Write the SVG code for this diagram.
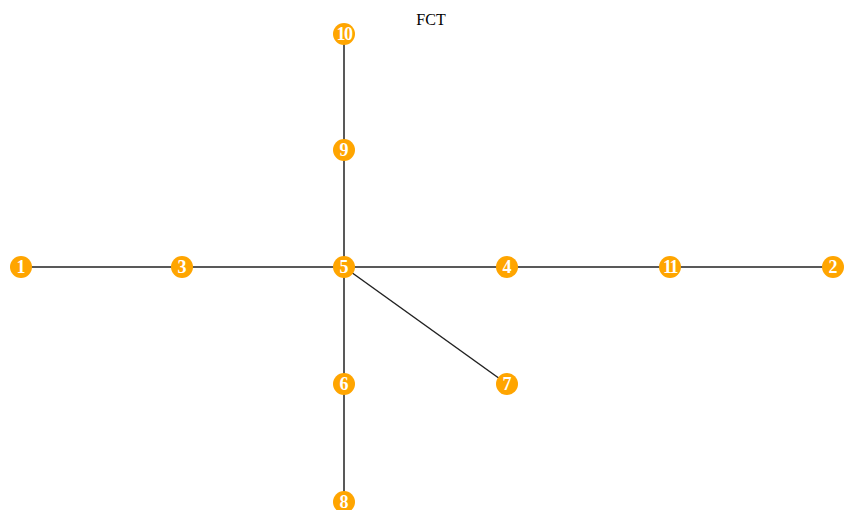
<svg xmlns="http://www.w3.org/2000/svg" width="846" height="510" viewBox="0 0 846 510">
  <style>
    .edge { stroke: #222; stroke-width: 1.5; fill: none; }
    .node circle { fill: #FFA500; }
    .node text { fill: #fff; font-family: "Liberation Serif", serif; font-weight: bold; font-size: 18px; text-anchor: middle; dominant-baseline: central; }
    .title { font-family: "Liberation Serif", serif; font-size: 16px; fill: #000; text-anchor: middle; }
  </style>
  <rect width="846" height="510" fill="#fff"/>
  <text class="title" x="431" y="25">FCT</text>
  <g id="edges">
    <line class="edge" x1="21" y1="267" x2="833" y2="267"/>
    <line class="edge" x1="344" y1="34" x2="344" y2="502"/>
    <line class="edge" x1="344" y1="267" x2="507" y2="384"/>
  </g>
  <g id="node-1" class="node"><circle cx="21" cy="267" r="11"/><text x="21" y="267">1</text></g>
  <g id="node-3" class="node"><circle cx="182" cy="267" r="11"/><text x="182" y="267">3</text></g>
  <g id="node-5" class="node"><circle cx="344" cy="267" r="11"/><text x="344" y="267">5</text></g>
  <g id="node-4" class="node"><circle cx="507" cy="267" r="11"/><text x="507" y="267">4</text></g>
  <g id="node-11" class="node"><circle cx="670" cy="267" r="11"/><text x="670" y="267" letter-spacing="-1.5">11</text></g>
  <g id="node-2" class="node"><circle cx="833" cy="267" r="11"/><text x="833" y="267">2</text></g>
  <g id="node-10" class="node"><circle cx="344" cy="34" r="11"/><text x="344" y="34" letter-spacing="-1.5">10</text></g>
  <g id="node-9" class="node"><circle cx="344" cy="150" r="11"/><text x="344" y="150">9</text></g>
  <g id="node-6" class="node"><circle cx="344" cy="384" r="11"/><text x="344" y="384">6</text></g>
  <g id="node-8" class="node"><circle cx="344" cy="502" r="11"/><text x="344" y="502">8</text></g>
  <g id="node-7" class="node"><circle cx="507" cy="384" r="11"/><text x="507" y="384">7</text></g>
</svg>
